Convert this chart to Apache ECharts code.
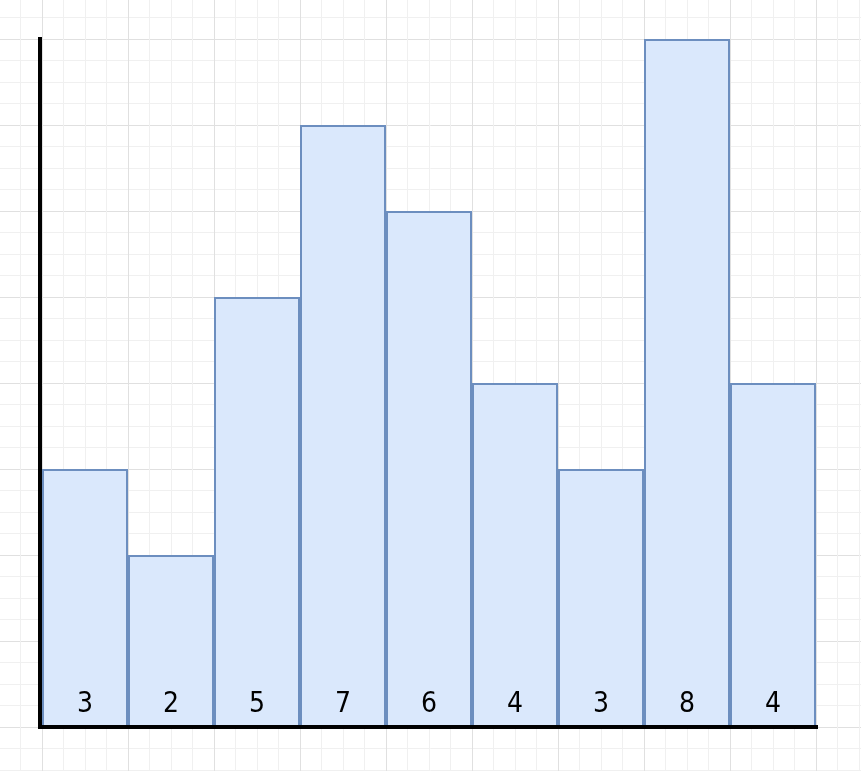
<!DOCTYPE html>
<html>
<head>
<meta charset="utf-8">
<style>html,body{margin:0;padding:0;background:#fff;}#main{width:861px;height:771px;}</style>
<script src="https://cdn.jsdelivr.net/npm/echarts@6/dist/echarts.min.js"></script>
</head>
<body>
<div id="main"></div>
<script>
const categories = ['A','B','C','D','E','F','G','H','I'];
const values = [3, 2, 5, 7, 6, 4, 3, 8, 4];
const yMax = 8;

const chart = echarts.init(document.getElementById('main'), null, {renderer: 'canvas'});
chart.setOption({
  animation: false,
  backgroundColor: '#ffffff',
  grid: [
    {left: 42, right: 45, top: 39, bottom: 44},
    {left: -44, top: -47, width: 946, height: 860, outerBoundsMode: 'none', containLabel: false}
  ],
  xAxis: [
    {gridIndex: 0, type: 'category', data: categories, offset: 2,
     axisLine: {lineStyle: {color: '#000', width: 4, cap: 'square'}},
     axisTick: {show: false}, axisLabel: {show: false}, splitLine: {show: false}, z: 5},
    {gridIndex: 1, type: 'value', min: 0, max: 11, interval: 1,
     axisLine: {show: false}, axisTick: {show: false}, axisLabel: {show: false},
     splitLine: {show: true, lineStyle: {color: '#e0e0e0', width: 1}},
     minorTick: {show: false, splitNumber: 4},
     minorSplitLine: {show: true, lineStyle: {color: '#f0f0f0', width: 1}}}
  ],
  yAxis: [
    {gridIndex: 0, type: 'value', min: 0, max: yMax, interval: 1, offset: 2,
     axisLine: {show: true, lineStyle: {color: '#000', width: 4, cap: 'square'}},
     axisTick: {show: false}, axisLabel: {show: false}, splitLine: {show: false}, z: 5},
    {gridIndex: 1, type: 'value', min: 0, max: 10, interval: 1,
     axisLine: {show: false}, axisTick: {show: false}, axisLabel: {show: false},
     splitLine: {show: true, lineStyle: {color: '#e0e0e0', width: 1}},
     minorTick: {show: false, splitNumber: 4},
     minorSplitLine: {show: true, lineStyle: {color: '#f0f0f0', width: 1}}}
  ],
  series: [{
    type: 'bar', xAxisIndex: 0, yAxisIndex: 0,
    data: values, barWidth: '100%', barCategoryGap: 0,
    itemStyle: {color: '#dae8fc', borderColor: '#6c8ebf', borderWidth: 2},
    label: {show: true, position: 'insideBottom', distance: 8,
            color: '#000', fontSize: 28, fontFamily: 'DejaVu Sans Condensed'}
  }]
});
</script>
</body>
</html>
